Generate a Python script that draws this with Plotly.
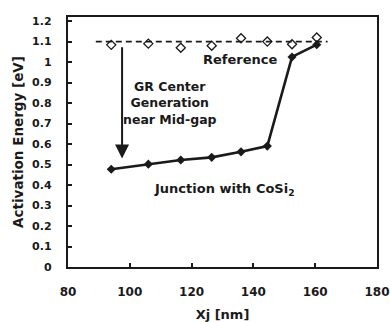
import plotly.graph_objects as go

# Data
xj_nm = [94, 106, 116.5, 126.5, 136, 144.5, 152.5, 160.5]
ea_junction = [0.477, 0.502, 0.522, 0.535, 0.562, 0.59, 1.025, 1.085]
ea_reference = [1.084, 1.09, 1.07, 1.08, 1.116, 1.10, 1.087, 1.12]
ref_line_x = [89, 164]
ref_level = 1.1
arrow_x = 97.5
arrow_from = 1.08
arrow_to = 0.53

x_ticks = [80, 100, 120, 140, 160, 180]
y_ticks = [0, 0.1, 0.2, 0.3, 0.4, 0.5, 0.6, 0.7, 0.8, 0.9, 1.0, 1.1, 1.2]
y_labels = ["0", "0.1", "0.2", "0.3", "0.4", "0.5", "0.6", "0.7", "0.8", "0.9", "1", "1.1", "1.2"]

INK = "#1a1a1a"
FONT = "DejaVu Sans"

fig = go.Figure()

# Reference dashed level line
fig.add_trace(go.Scatter(
    x=ref_line_x, y=[ref_level, ref_level], mode="lines",
    line=dict(color=INK, width=1.8, dash="6px,4px"), showlegend=False, hoverinfo="skip"))

# Reference open diamonds
fig.add_trace(go.Scatter(
    x=xj_nm, y=ea_reference, mode="markers",
    marker=dict(symbol="diamond-open", size=7, color=INK, line=dict(width=1.3, color=INK)),
    showlegend=False))

# Junction with CoSi2
fig.add_trace(go.Scatter(
    x=xj_nm, y=ea_junction, mode="lines+markers",
    line=dict(color=INK, width=2.6),
    marker=dict(symbol="diamond", size=7, color=INK),
    showlegend=False))

annos = [
    dict(x=135.8, y=1.015, text="Reference", showarrow=False,
         font=dict(family=FONT, size=13, color=INK, weight="bold")),
    dict(x=112.9, y=0.8, text="GR Center<br>Generation<br>near Mid-gap", showarrow=False,
         align="center", font=dict(family=FONT, size=12.5, color=INK, weight="bold")),
    dict(x=130.5, y=0.38, text="Junction with CoSi<sub>2</sub>", showarrow=False,
         font=dict(family=FONT, size=13, color=INK, weight="bold")),
    dict(x=arrow_x, y=arrow_to, ax=arrow_x, ay=arrow_from, xref="x", yref="y",
         axref="x", ayref="y", showarrow=True, arrowhead=2, arrowsize=1.4,
         arrowwidth=2, arrowcolor=INK, text=""),
]

fig.update_layout(
    width=390, height=322,
    margin=dict(l=68, r=13, t=17, b=55),
    paper_bgcolor="white", plot_bgcolor="white",
    annotations=annos,
    xaxis=dict(
        range=[80, 180], tickvals=x_ticks, ticks="inside", ticklen=4, tickwidth=1.5,
        tickcolor=INK, showgrid=False, zeroline=False, automargin=False,
        showline=True, linecolor=INK, linewidth=2.4, mirror=True,
        ticklabelstandoff=12,
        tickfont=dict(family=FONT, size=12, color=INK, weight="bold"),
        title=dict(text="Xj [nm]", standoff=14,
                   font=dict(family=FONT, size=13, color=INK, weight="bold"))),
    yaxis=dict(
        range=[0, 1.22], tickvals=y_ticks, ticktext=y_labels, ticks="inside", ticklen=4,
        tickwidth=1.5, tickcolor=INK, showgrid=False, zeroline=False, automargin=False,
        showline=True, linecolor=INK, linewidth=2.4, mirror=True,
        ticklabelstandoff=12,
        tickfont=dict(family=FONT, size=11, color=INK, weight="bold"),
        title=dict(text="Activation Energy [eV]", standoff=5,
                   font=dict(family=FONT, size=13.5, color=INK, weight="bold"))),
)

fig.write_html("out.html")
